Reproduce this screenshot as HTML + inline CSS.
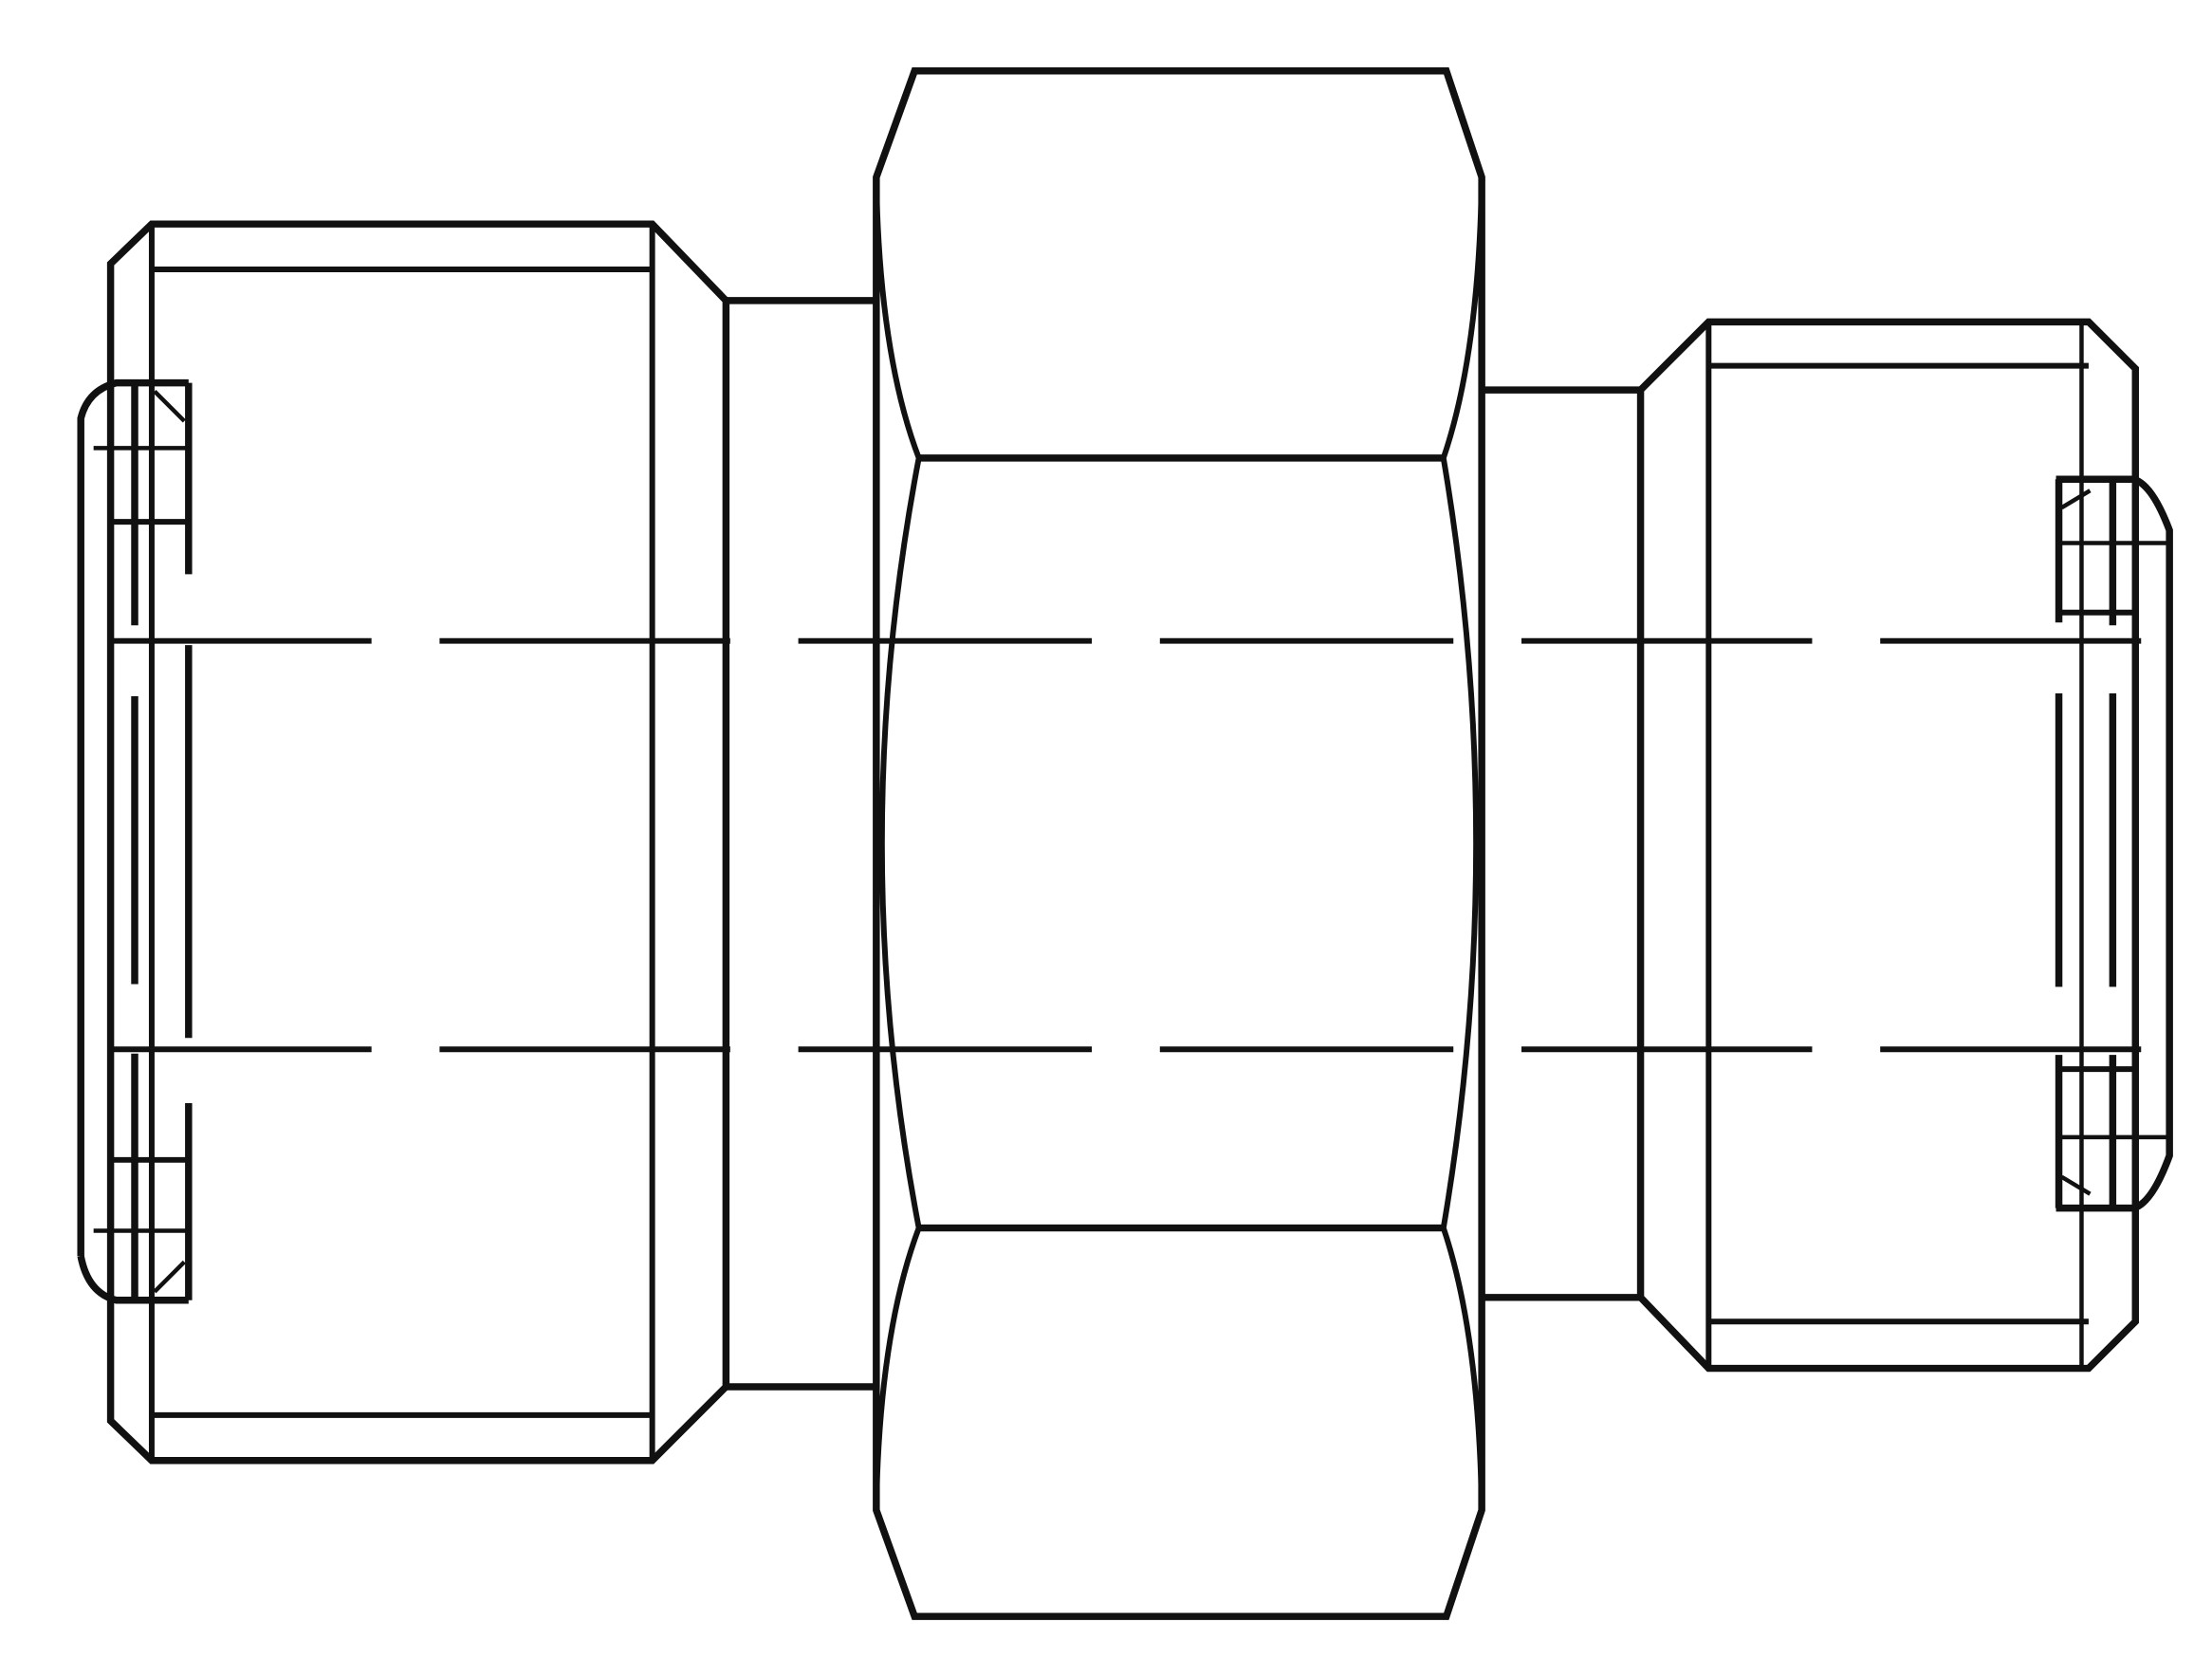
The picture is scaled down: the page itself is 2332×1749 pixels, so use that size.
<!DOCTYPE html>
<html><head><meta charset="utf-8"><style>html,body{margin:0;padding:0;background:#fff}svg{display:block}</style></head>
<body>
<svg width="2332" height="1749" viewBox="0 0 1560 1170" preserveAspectRatio="none" xmlns="http://www.w3.org/2000/svg">
<g fill="none" stroke="#111" stroke-width="5" stroke-linejoin="miter">
<path d="M107,158 L460,158 L512,212 L512,978 L460,1030 L107,1030 L78,1002 L78,186 Z"/>
<line x1="107" y1="158" x2="107" y2="1030" stroke-width="4"/>
<line x1="460" y1="158" x2="460" y2="1030" stroke-width="4"/>
<line x1="107" y1="190" x2="460" y2="190" stroke-width="4"/>
<line x1="107" y1="998" x2="460" y2="998" stroke-width="4"/>
<path d="M57,886 L57,295 Q62,275 82,270 L133,270" />
<path d="M57,886 Q62,912 82,917 L133,917"/>
<line x1="133" y1="270" x2="133" y2="405"/>
<line x1="133" y1="455" x2="133" y2="732"/>
<line x1="133" y1="778" x2="133" y2="917"/>
<line x1="109" y1="276" x2="130" y2="297" stroke-width="3"/>
<line x1="109" y1="911" x2="130" y2="890" stroke-width="3"/>
<line x1="95" y1="272" x2="95" y2="441"/>
<line x1="95" y1="491" x2="95" y2="694"/>
<line x1="95" y1="743" x2="95" y2="915"/>
<line x1="66" y1="316" x2="133" y2="316" stroke-width="3"/>
<line x1="78" y1="368" x2="133" y2="368" stroke-width="4"/>
<line x1="78" y1="818" x2="133" y2="818" stroke-width="4"/>
<line x1="66" y1="868" x2="133" y2="868" stroke-width="3"/>
<path d="M512,212 L618,212 M512,978 L618,978"/>
<path d="M645,50 L1020,50 L1045,125 L1045,1065 L1020,1140 L645,1140 L618,1065 L618,125 Z"/>
<line x1="648" y1="323" x2="1018" y2="323"/>
<line x1="648" y1="866" x2="1018" y2="866"/>
<path d="M618,125 Q620,250 648,323 Q596,595 648,866 Q620,940 618,1065" stroke-width="4"/>
<path d="M1045,125 Q1043,250 1018,323 Q1064,595 1018,866 Q1043,940 1045,1065" stroke-width="4"/>
<path d="M1045,275 L1157,275 M1045,915 L1157,915"/>
<path d="M1157,275 L1205,227 L1473,227 L1506,260 L1506,932 L1473,965 L1205,965 L1157,915 Z"/>
<line x1="1205" y1="227" x2="1205" y2="965" stroke-width="4"/>
<line x1="1468" y1="227" x2="1468" y2="965" stroke-width="3"/>
<line x1="1205" y1="258" x2="1473" y2="258" stroke-width="4"/>
<line x1="1205" y1="932" x2="1473" y2="932" stroke-width="4"/>
<path d="M1450,338 L1505,338 Q1518,342 1530,374 L1530,815 Q1518,848 1505,852 L1450,852"/>
<line x1="1452" y1="338" x2="1452" y2="439"/>
<line x1="1452" y1="489" x2="1452" y2="696"/>
<line x1="1452" y1="744" x2="1452" y2="852"/>
<line x1="1490" y1="338" x2="1490" y2="441"/>
<line x1="1490" y1="489" x2="1490" y2="696"/>
<line x1="1490" y1="744" x2="1490" y2="852"/>
<line x1="1454" y1="358" x2="1474" y2="346" stroke-width="3"/>
<line x1="1454" y1="830" x2="1474" y2="842" stroke-width="3"/>
<line x1="1452" y1="383" x2="1530" y2="383" stroke-width="3"/>
<line x1="1452" y1="432" x2="1506" y2="432" stroke-width="4"/>
<line x1="1452" y1="754" x2="1506" y2="754" stroke-width="4"/>
<line x1="1452" y1="802" x2="1530" y2="802" stroke-width="3"/>
<g stroke-width="4">
<path d="M78,452H262 M310,452H515 M563,452H770 M818,452H1025 M1073,452H1278 M1326,452H1510"/>
<path d="M78,740H262 M310,740H515 M563,740H770 M818,740H1025 M1073,740H1278 M1326,740H1510"/>
</g>
</g>
</svg>
</body></html>
